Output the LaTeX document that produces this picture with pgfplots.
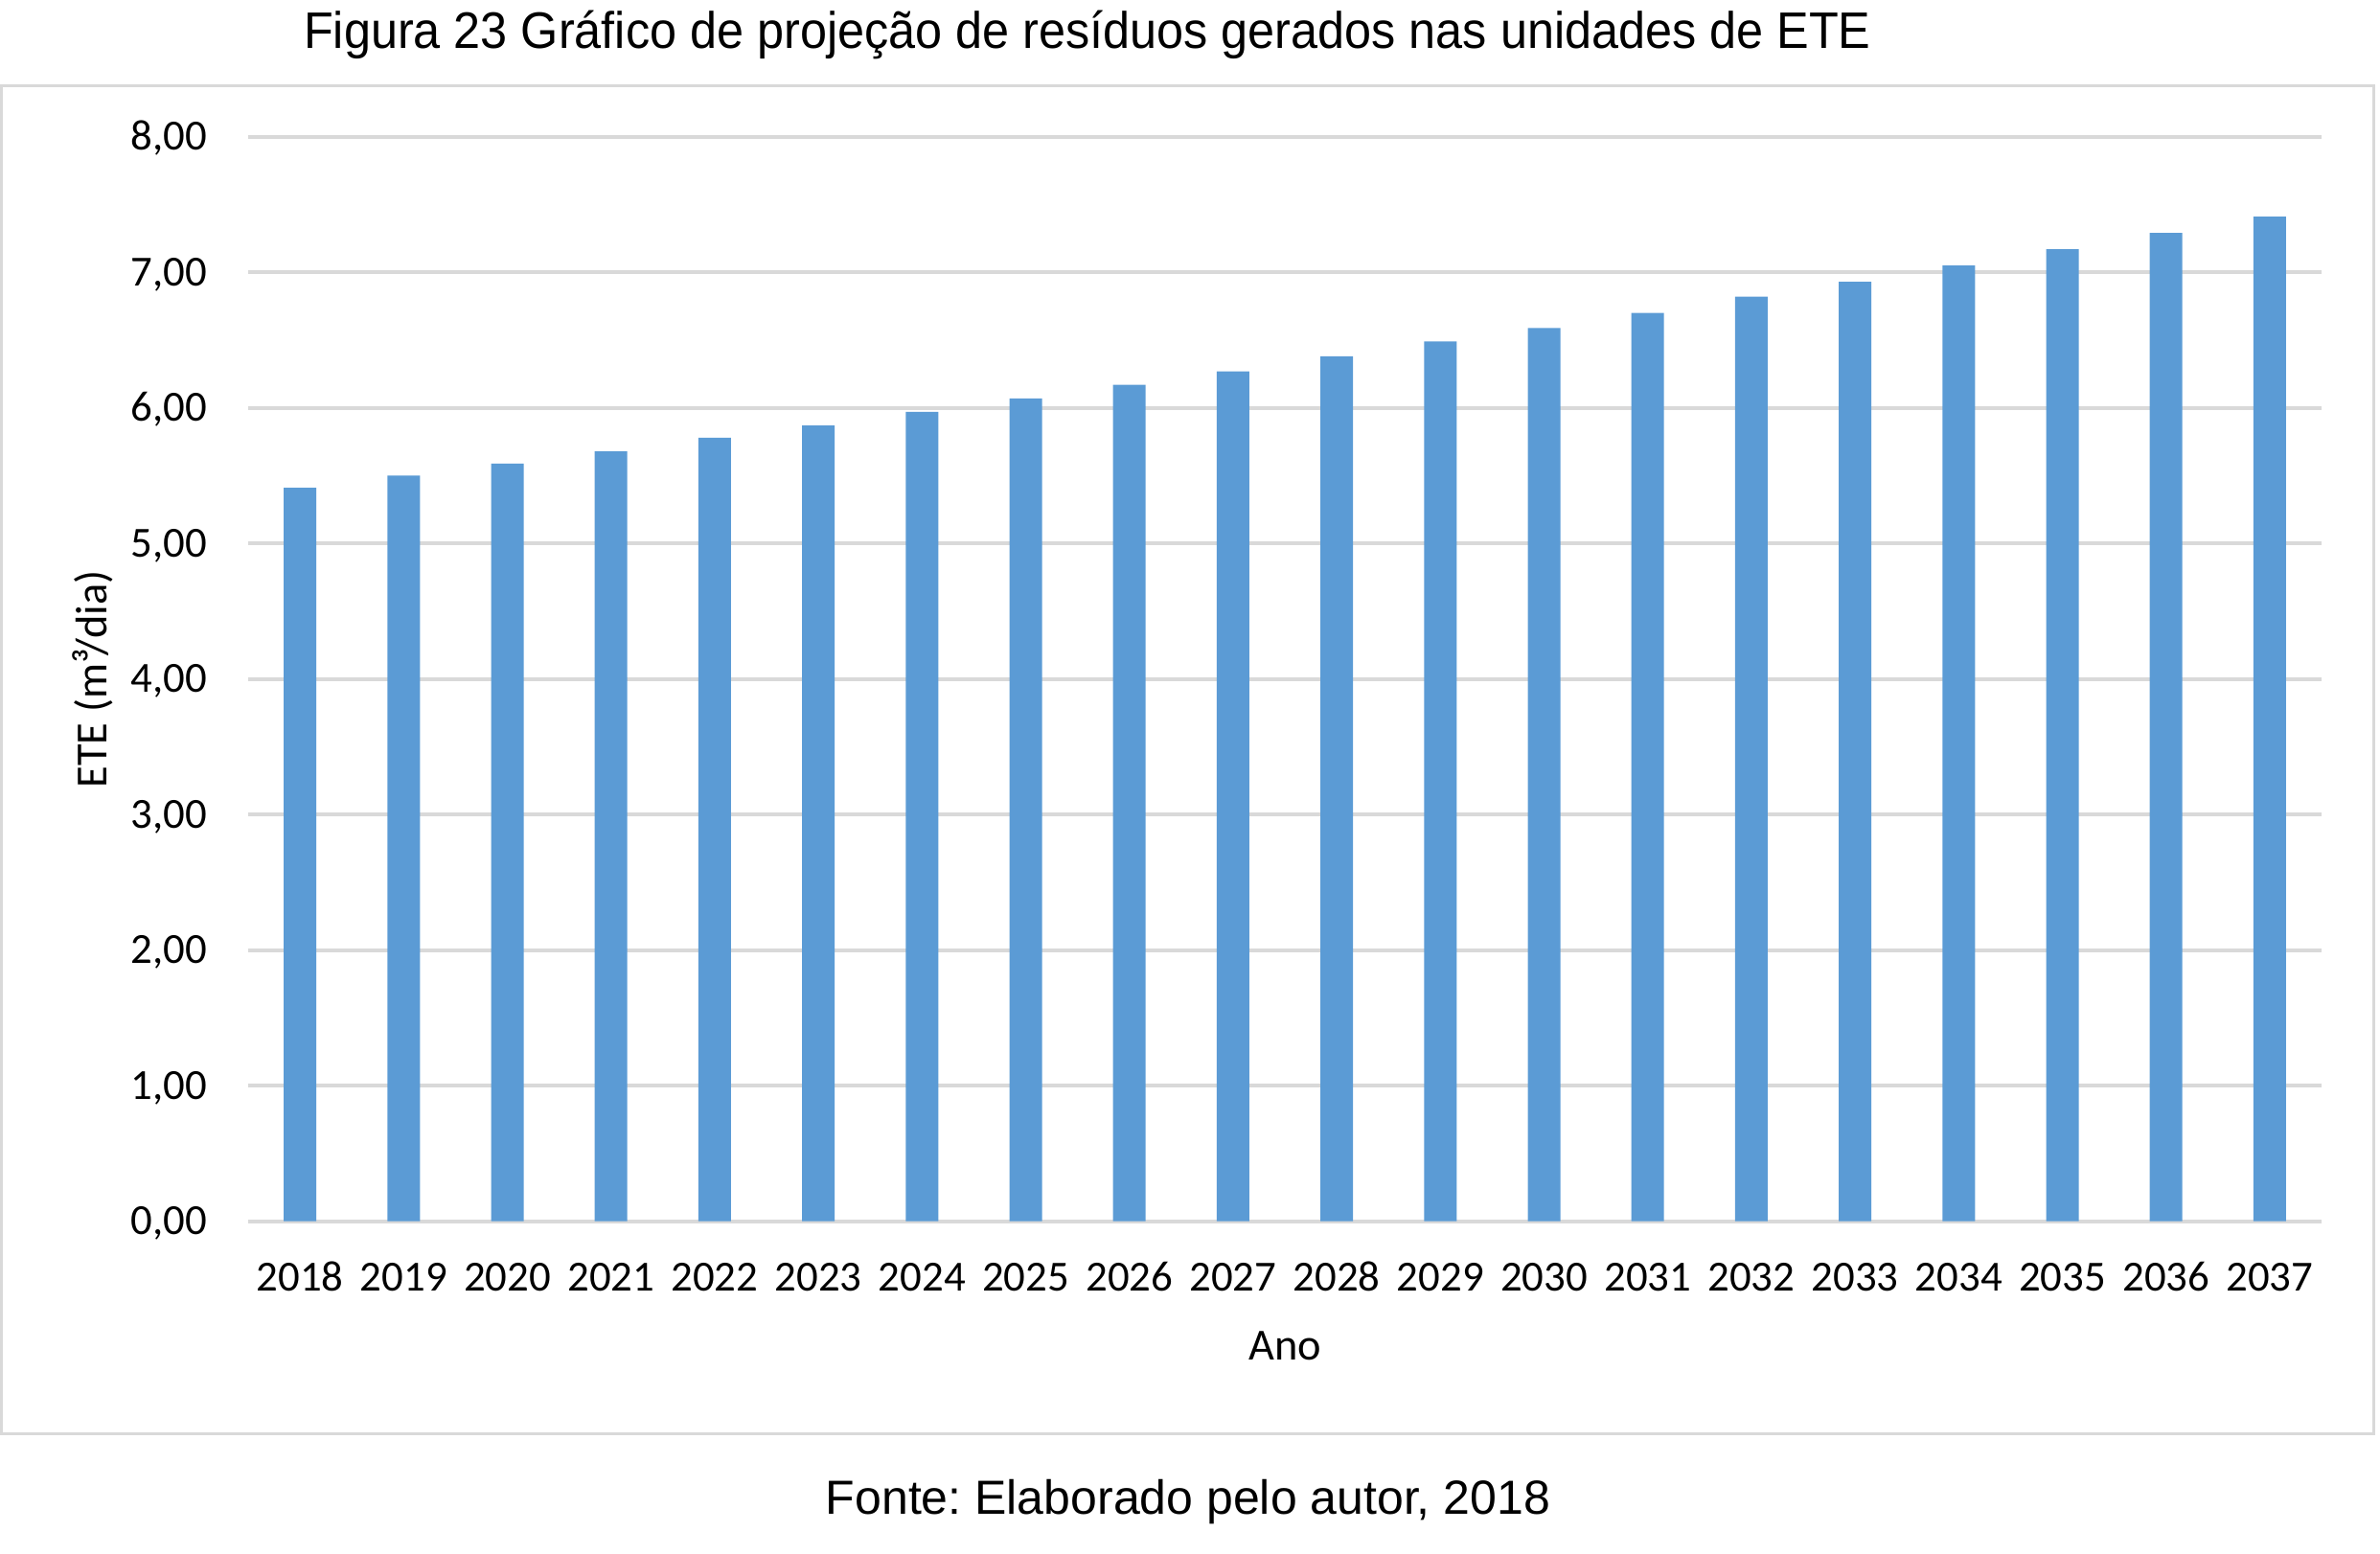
\documentclass[border=0pt]{standalone}
\usepackage{fontspec}
\usepackage{pgfplots}
\pgfplotsset{compat=1.18}
\setmainfont{Carlito}
\newfontfamily\arialfont{Liberation Sans}
\definecolor{barblue}{HTML}{5B9BD5}
\definecolor{gridgray}{HTML}{D9D9D9}
\frenchspacing
\begin{document}
\begin{tikzpicture}
\draw[gridgray, line width=0.75pt] (0.4pt,-22.3pt) rectangle (619.25pt,-374.2pt);
\node[anchor=base, inner sep=0pt, font=\arialfont\fontsize{13.4}{15}\selectfont] at (283.75pt,-12.5pt) {\scalebox{0.94}[1]{Figura 23 Gráfico de projeção de resíduos gerados nas unidades de ETE}};
\node[anchor=base, inner sep=0pt, font=\arialfont\fontsize{12.5}{14}\selectfont] at (310pt,-395pt) {Fonte: Elaborado pelo autor, 2018};
\begin{axis}[
  at={(64.75pt,-318.675pt)}, anchor=south west,
  scale only axis, width=541pt, height=283pt,
  xmin=-0.5, xmax=19.5, ymin=0, ymax=8,
  ybar, bar width=8.5pt,
  axis line style={draw=none},
  ymajorgrids, grid style={gridgray, line width=0.9pt},
  major tick length=0pt,
  xtick={0,...,19},
  xticklabels={2018,2019,2020,2021,2022,2023,2024,2025,2026,2027,2028,2029,2030,2031,2032,2033,2034,2035,2036,2037},
  ytick={0,...,8},
  yticklabel={\pgfmathprintnumber[fixed, fixed zerofill, precision=2, use comma]{\tick}},
  /pgf/number format/assume math mode=true,
  tick label style={font=\fontsize{11.2}{13}\selectfont, inner sep=0pt},
  xticklabel style={anchor=base, yshift=-18.1pt},
  yticklabel style={anchor=base east, xshift=-10.5pt, yshift=-3.5pt},
  xlabel={Ano},
  ylabel={ETE (m³/dia)},
  every axis x label/.style={at={(axis description cs:0.5,-0.1152)}, anchor=center, font=\fontsize{11.6}{13}\selectfont},
  every axis y label/.style={at={(axis description cs:-0.07486,0.5)}, rotate=90, anchor=center, font=\fontsize{11.6}{13}\selectfont},
]
\addplot[fill=barblue, draw=none] coordinates {
(0,5.41) (1,5.50) (2,5.59) (3,5.68) (4,5.78) (5,5.87) (6,5.97) (7,6.07) (8,6.17) (9,6.27)
(10,6.38) (11,6.49) (12,6.59) (13,6.70) (14,6.82) (15,6.93) (16,7.05) (17,7.17) (18,7.29) (19,7.41)};
\end{axis}
\pgfresetboundingbox
\useasboundingbox (0pt,0pt) rectangle (621pt,-405.25pt);
\end{tikzpicture}
\end{document}
